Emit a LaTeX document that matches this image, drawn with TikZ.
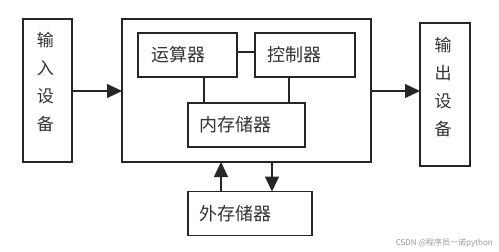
\documentclass[tikz,border=0pt]{standalone}
\usepackage{fontspec}
\setmainfont{Noto Sans CJK SC}
\usetikzlibrary{arrows.meta}
\begin{document}
\begin{tikzpicture}[x=1pt,y=-1pt,
  box/.style={draw=black!85,line width=1.3pt},
  lbl/.style={font=\fontsize{18}{18}\selectfont,text=black!80,inner sep=0pt},
  vlbl/.style={font=\fontsize{17}{28}\selectfont,text=black!80,inner sep=0pt,align=center},
  conn/.style={draw=black!85,line width=1.3pt},
  arr/.style={conn,-{Triangle[length=15pt,width=14pt]}}]
\useasboundingbox (0,0) rectangle (499,252);
\fill[white] (0,0) rectangle (499,252);
% boxes
\draw[box] (23,19) rectangle (72,162);
\node[vlbl] (in) at (45.5,82) {输\\入\\设\\备};
\coordinate (inE) at (72,91);
\draw[box] (122,19) rectangle (371,162);
\coordinate (mainW) at (122,91);
\coordinate (mainE) at (371,91);
\coordinate (mainS1) at (221,162);
\coordinate (mainS2) at (272,162);
\node[box,minimum width=99pt,minimum height=44pt,inner sep=0pt] (alu) at (187.5,55) {};
\node[lbl,anchor=west] at (151,55) {运算器};
\node[box,minimum width=100pt,minimum height=44pt,inner sep=0pt] (cu) at (305,55) {};
\node[lbl,anchor=west] at (267,55) {控制器};
\node[box,minimum width=117pt,minimum height=44pt,inner sep=0pt] (mem) at (246.5,125) {};
\node[lbl,anchor=west] at (199,125) {内存储器};
\draw[box] (420,23) rectangle (470,166);
\node[vlbl] (out) at (443,87.5) {输\\出\\设\\备};
\coordinate (outW) at (420,91);
\node[box,minimum width=124pt,minimum height=44pt,inner sep=0pt] (ext) at (250,213.5) {};
\node[lbl,anchor=west] at (199,213.5) {外存储器};
\coordinate (extN1) at (221,191.5);
\coordinate (extN2) at (272,191.5);
% connectors
\draw[conn] (alu.east |- 0,52) -- (cu.west |- 0,52);
\draw[conn] (alu.south -| 204,0) -- (mem.north -| 204,0);
\draw[conn] (cu.south -| 289,0) -- (mem.north -| 289,0);
\draw[arr] (inE) -- (mainW);
\draw[arr] (mainE) -- (outW);
\draw[arr] (extN1) -- (mainS1);
\draw[arr] (mainS2) -- (extN2);
\node[font=\fontsize{8}{8}\selectfont,text=black!40,anchor=east,inner sep=0pt] (wm) at (493,243) {CSDN @程序员一诺python};
\end{tikzpicture}
\end{document}
